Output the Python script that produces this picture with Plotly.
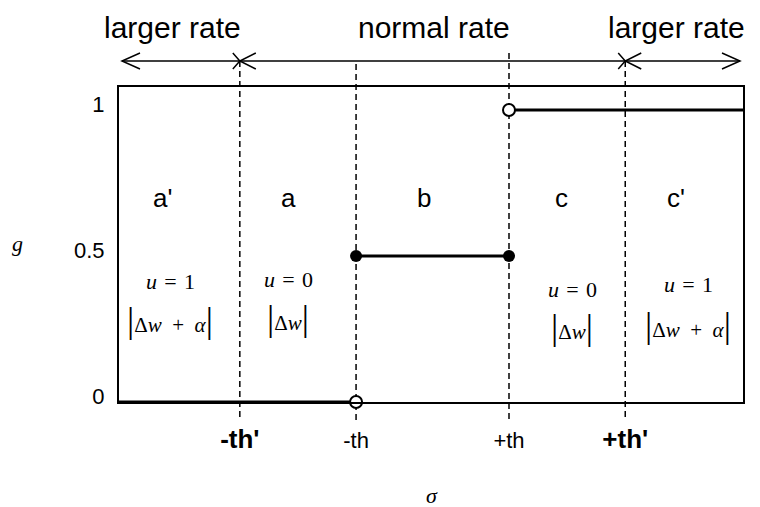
import plotly.graph_objects as go

# ---- data -------------------------------------------------------------
# sigma axis in units of th (th = 1); th' sits at about 2.52 th
sigma_tick_vals = [-2.52, -1.0, 1.0, 2.52]
sigma_tick_text = [
    "<b><span style='font-size:26px'>-th'</span></b>",
    "-th",
    "+th",
    "<b><span style='font-size:26px'>+th'</span></b>",
]
sigma_range = [-4.10, 4.06]

g_tick_vals = [0, 0.5, 1]
g_tick_text = ["0", "0.5", "1"]

# piecewise output g(sigma)
low_sigma = [-4.10, -1.0]
low_g = [0, 0]
mid_sigma = [-1.0, 1.0]
mid_g = [0.5, 0.5]
high_sigma = [1.0, 4.06]
high_g = [1, 1]

# end points: open = excluded, filled = included
open_sigma = [-1.0, 1.0]
open_g = [0, 1]
closed_sigma = [-1.0, 1.0]
closed_g = [0.5, 0.5]

region_names = ["a'", "a", "b", "c", "c'"]
region_sigma = [-3.53, -1.88, -0.11, 1.69, 3.18]

rate_names = ["larger rate", "normal rate", "larger rate"]

# ---- geometry helpers (pixel -> paper) --------------------------------
W, H = 760, 507
L, R, T, B = 119, 743, 87, 402


def px(x):
    return (x - L) / (R - L)


def py(y):
    return (B - y) / (B - T)


def sigma_to_px(s):
    return L + (s - sigma_range[0]) / (sigma_range[1] - sigma_range[0]) * (R - L)


fig = go.Figure()

line_style = dict(color="black", width=3)
for xs, ys in [(low_sigma, low_g), (mid_sigma, mid_g), (high_sigma, high_g)]:
    fig.add_trace(go.Scatter(x=xs, y=ys, mode="lines", line=line_style,
                             cliponaxis=False, hoverinfo="skip"))

fig.add_trace(go.Scatter(
    x=closed_sigma, y=closed_g, mode="markers", cliponaxis=False,
    marker=dict(symbol="circle", size=12, color="black"), hoverinfo="skip"))
fig.add_trace(go.Scatter(
    x=open_sigma, y=open_g, mode="markers", cliponaxis=False,
    marker=dict(symbol="circle", size=12, color="white",
                line=dict(color="black", width=2)), hoverinfo="skip"))

# ---- dashed threshold lines ------------------------------------------
dash_tops = [61, 64, 53, 61]
for s, top in zip(sigma_tick_vals, dash_tops):
    fig.add_shape(type="line", xref="x", yref="paper", x0=s, x1=s,
                  y0=py(top), y1=py(421),
                  line=dict(color="black", width=1.5, dash="6px,4px"), layer="below")

# ---- rate arrows across the top --------------------------------------
ay = 61
fig.add_shape(type="line", xref="paper", yref="paper",
              x0=px(122), x1=px(740), y0=py(ay), y1=py(ay),
              line=dict(color="black", width=1.5))


def path(points):
    return "M " + " L ".join(f"{px(a)},{py(b)}" for a, b in points)


arrow_paths = [
    [(140, ay - 8), (122, ay), (140, ay + 8)],
    [(722, ay - 8), (740, ay), (722, ay + 8)],
]
for s in (sigma_tick_vals[0], sigma_tick_vals[3]):
    x0 = sigma_to_px(s)
    arrow_paths.append([(x0 - 7, ay - 8), (x0, ay), (x0 - 7, ay + 8)])
    arrow_paths.append([(x0 + 16, ay - 8), (x0, ay), (x0 + 16, ay + 8)])
for pts in arrow_paths:
    fig.add_shape(type="path", xref="paper", yref="paper", path=path(pts),
                  line=dict(color="black", width=1.5))

# ---- text ------------------------------------------------------------
sans = "Liberation Sans"
serif = "Liberation Serif"


def label(text, x, y, family, size, xref="paper"):
    fig.add_annotation(text=text, xref=xref, yref="paper", x=x, y=y,
                       xanchor="center", yanchor="middle", showarrow=False,
                       font=dict(family=family, size=size, color="black"))


for name, cx in zip(rate_names, [172, 434, 676]):
    label(name, px(cx), py(27), sans, 30)

for name, s in zip(region_names, region_sigma):
    label(name, s, py(198), sans, 26, xref="x")

bar = "<span style='font-size:36px'>|</span>"
sp = "\u2004"
formulas = [
    (170, 281, 320, f"<i>u</i>{sp}={sp}1", bar + f"Δ<i>w</i>\u2002+\u2002<i>α</i>" + bar),
    (288, 279, 318, f"<i>u</i>{sp}={sp}0", bar + "Δ<i>w</i>" + bar),
    (572, 289, 327, f"<i>u</i>{sp}={sp}0", bar + "Δ<i>w</i>" + bar),
    (688, 284, 325, f"<i>u</i>{sp}={sp}1", bar + f"Δ<i>w</i>\u2002+\u2002<i>α</i>" + bar),
]
for cx, uy, wy, utext, wtext in formulas:
    label(utext, px(cx), py(uy), serif, 22)
    label(wtext, px(cx), py(wy), serif, 21)

label("<i>g</i>", px(17), py(243), serif, 22)
label("<i>σ</i>", px(432), py(495), serif, 22)

fig.update_layout(
    width=W, height=H,
    margin=dict(l=L, r=W - R, t=T, b=H - B),
    paper_bgcolor="white", plot_bgcolor="white",
    showlegend=False,
    xaxis=dict(range=sigma_range, tickvals=sigma_tick_vals, ticktext=sigma_tick_text,
               showgrid=False, zeroline=False, showline=True, mirror=True,
               linecolor="black", linewidth=2, ticks="", ticklabelstandoff=18,
               tickfont=dict(family=sans, size=22, color="black")),
    yaxis=dict(range=[0, (B - T) / 292], tickvals=g_tick_vals, ticktext=g_tick_text,
               showgrid=False, zeroline=False, showline=True, mirror=True,
               linecolor="black", linewidth=2, ticks="", ticklabelstandoff=8,
               ticklabelshift=-6,
               tickfont=dict(family=sans, size=22, color="black")),
)

fig.write_html("out.html")
